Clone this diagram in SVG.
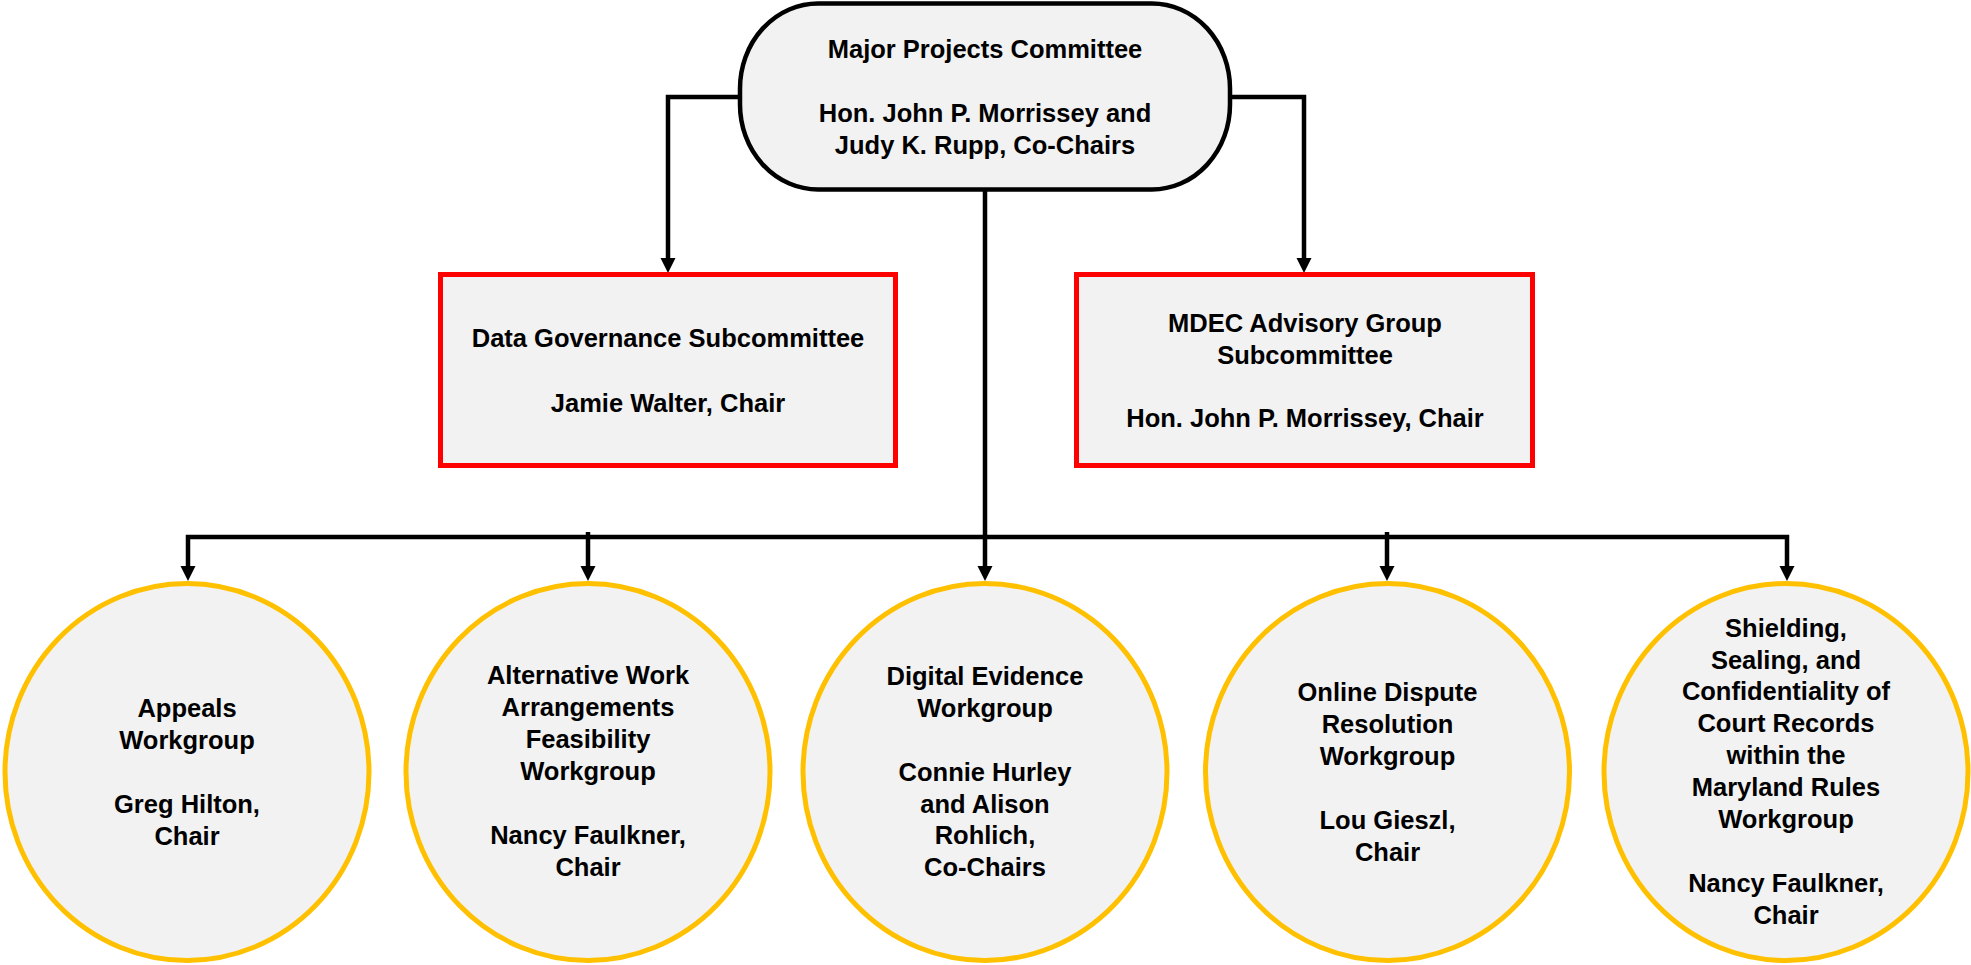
<svg xmlns="http://www.w3.org/2000/svg" width="1971" height="965" viewBox="0 0 1971 965">
<style>
  .t { font-family: "Liberation Sans", Arial, sans-serif; font-weight: bold; font-size: 25.5px; fill: #000; text-anchor: middle; }
  .conn { fill: none; stroke: #000; stroke-width: 4.5; stroke-linejoin: miter; }
  .box { fill: #F2F2F2; stroke: #FF0000; stroke-width: 5; }
  .wg { fill: #F2F2F2; stroke: #FFC000; stroke-width: 5; }
  .top { fill: #F2F2F2; stroke: #000; stroke-width: 4.5; }
</style>
<defs>
  <marker id="arr" markerUnits="userSpaceOnUse" markerWidth="16" markerHeight="16" refX="3" refY="7.5" orient="auto-start-reverse">
    <path d="M0,0 L15,7.5 L0,15 Z" fill="#000"/>
  </marker>
</defs>
<rect width="1971" height="965" fill="#FFFFFF"/>

<g id="connectors">
  <path class="conn" d="M740,97 H668 V261" marker-end="url(#arr)"/>
  <path class="conn" d="M1230,97 H1304 V261" marker-end="url(#arr)"/>
  <path class="conn" d="M985,190 V569" marker-end="url(#arr)"/>
  <path class="conn" d="M188,569 V537 H1787 V569" marker-start="url(#arr)" marker-end="url(#arr)"/>
  <path class="conn" d="M588,532 V569" marker-end="url(#arr)"/>
  <path class="conn" d="M1387,532 V569" marker-end="url(#arr)"/>
</g>

<g id="major-projects">
  <rect class="top" x="740" y="3.5" width="490" height="186" rx="78" ry="85"/>
  <text class="t" x="985" y="58">Major Projects Committee</text>
  <text class="t"><tspan x="985" y="122">Hon. John P. Morrissey and</tspan><tspan x="985" y="154">Judy K. Rupp, Co-Chairs</tspan></text>
</g>

<g id="data-governance">
  <rect class="box" x="440.5" y="274.5" width="455" height="191"/>
  <text class="t" x="668" y="347">Data Governance Subcommittee</text>
  <text class="t" x="668" y="412">Jamie Walter, Chair</text>
</g>

<g id="mdec">
  <rect class="box" x="1076.5" y="274.5" width="456" height="191"/>
  <text class="t"><tspan x="1305" y="332">MDEC Advisory Group</tspan><tspan x="1305" y="364">Subcommittee</tspan></text>
  <text class="t" x="1305" y="427">Hon. John P. Morrissey, Chair</text>
</g>

<g id="appeals">
  <ellipse class="wg" cx="187" cy="772" rx="182" ry="188.5"/>
  <text class="t"><tspan x="187" y="717">Appeals</tspan><tspan x="187" y="749">Workgroup</tspan><tspan x="187" y="813">Greg Hilton,</tspan><tspan x="187" y="845">Chair</tspan></text>
</g>

<g id="alternative-work">
  <ellipse class="wg" cx="588" cy="772" rx="182" ry="188.5"/>
  <text class="t"><tspan x="588" y="684">Alternative Work</tspan><tspan x="588" y="716">Arrangements</tspan><tspan x="588" y="748">Feasibility</tspan><tspan x="588" y="780">Workgroup</tspan><tspan x="588" y="844">Nancy Faulkner,</tspan><tspan x="588" y="876">Chair</tspan></text>
</g>

<g id="digital-evidence">
  <ellipse class="wg" cx="985" cy="772" rx="182" ry="188.5"/>
  <text class="t"><tspan x="985" y="685">Digital Evidence</tspan><tspan x="985" y="717">Workgroup</tspan><tspan x="985" y="781">Connie Hurley</tspan><tspan x="985" y="813">and Alison</tspan><tspan x="985" y="844">Rohlich,</tspan><tspan x="985" y="876">Co-Chairs</tspan></text>
</g>

<g id="online-dispute">
  <ellipse class="wg" cx="1387.5" cy="772" rx="182" ry="188.5"/>
  <text class="t"><tspan x="1387.5" y="701">Online Dispute</tspan><tspan x="1387.5" y="733">Resolution</tspan><tspan x="1387.5" y="765">Workgroup</tspan><tspan x="1387.5" y="829">Lou Gieszl,</tspan><tspan x="1387.5" y="861">Chair</tspan></text>
</g>

<g id="shielding">
  <ellipse class="wg" cx="1786" cy="772" rx="182" ry="188.5"/>
  <text class="t"><tspan x="1786" y="637">Shielding,</tspan><tspan x="1786" y="669">Sealing, and</tspan><tspan x="1786" y="700">Confidentiality of</tspan><tspan x="1786" y="732">Court Records</tspan><tspan x="1786" y="764">within the</tspan><tspan x="1786" y="796">Maryland Rules</tspan><tspan x="1786" y="828">Workgroup</tspan><tspan x="1786" y="892">Nancy Faulkner,</tspan><tspan x="1786" y="924">Chair</tspan></text>
</g>
</svg>
